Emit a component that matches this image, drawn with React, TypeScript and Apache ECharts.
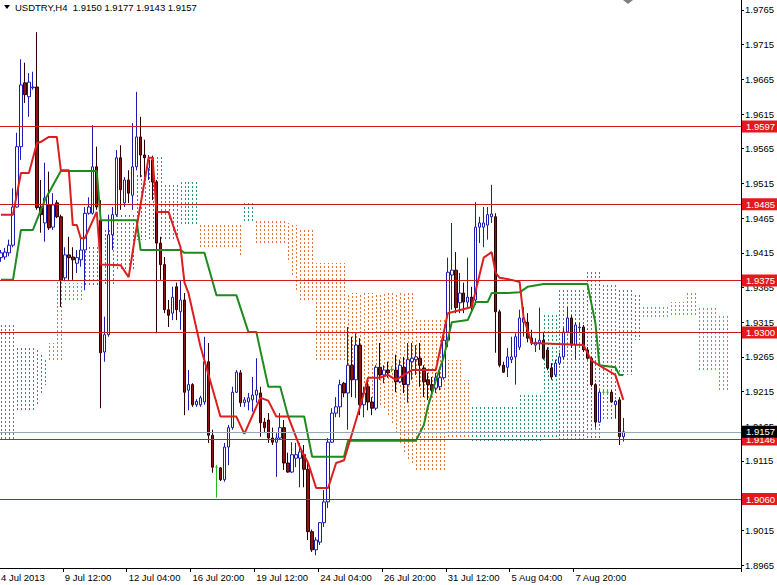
import React, { useEffect, useRef } from 'react';
import * as echarts from 'echarts';

// ---------- data ----------
const TOTAL_SLOTS = 186; // 157 H4 bars + room for the cloud shifted 26 bars ahead
const TICK_EVERY = 16;
const tickLabels = [
  '4 Jul 2013', '9 Jul 12:00', '12 Jul 04:00', '16 Jul 20:00', '19 Jul 12:00',
  '24 Jul 04:00', '26 Jul 20:00', '31 Jul 12:00', '5 Aug 04:00', '7 Aug 20:00',
];
const titleText = 'USDTRY,H4  1.9150 1.9177 1.9143 1.9157';

// [open, high, low, close]
const candles: number[][] = [
  [1.9408, 1.9419, 1.9402, 1.9415], [1.9409, 1.9422, 1.9405, 1.9416], [1.9415, 1.9434, 1.9410, 1.9426],
  [1.9426, 1.9508, 1.9423, 1.9481], [1.9481, 1.9588, 1.9480, 1.9568], [1.9568, 1.9694, 1.9549, 1.9657],
  [1.9660, 1.9689, 1.9631, 1.9643], [1.9640, 1.9674, 1.9611, 1.9661], [1.9653, 1.9676, 1.9650, 1.9654],
  [1.9654, 1.9733, 1.9477, 1.9480], [1.9481, 1.9520, 1.9444, 1.9470], [1.9458, 1.9545, 1.9431, 1.9494],
  [1.9484, 1.9532, 1.9448, 1.9451], [1.9452, 1.9501, 1.9448, 1.9484], [1.9487, 1.9491, 1.9465, 1.9467],
  [1.9467, 1.9470, 1.9337, 1.9376], [1.9379, 1.9423, 1.9374, 1.9412], [1.9412, 1.9438, 1.9376, 1.9408],
  [1.9409, 1.9423, 1.9376, 1.9405], [1.9400, 1.9419, 1.9386, 1.9408], [1.9405, 1.9436, 1.9395, 1.9419],
  [1.9419, 1.9481, 1.9361, 1.9472], [1.9472, 1.9495, 1.9470, 1.9481], [1.9472, 1.9599, 1.9470, 1.9539],
  [1.9539, 1.9568, 1.9477, 1.9481], [1.9462, 1.9491, 1.9191, 1.9271], [1.9272, 1.9323, 1.9258, 1.9297],
  [1.9297, 1.9470, 1.9294, 1.9441], [1.9441, 1.9481, 1.9419, 1.9470], [1.9470, 1.9563, 1.9467, 1.9552],
  [1.9552, 1.9570, 1.9477, 1.9506], [1.9487, 1.9524, 1.9481, 1.9520], [1.9520, 1.9534, 1.9487, 1.9501],
  [1.9498, 1.9602, 1.9477, 1.9539], [1.9539, 1.9647, 1.9534, 1.9582], [1.9582, 1.9611, 1.9524, 1.9556],
  [1.9556, 1.9578, 1.9524, 1.9552], [1.9537, 1.9556, 1.9520, 1.9549], [1.9549, 1.9555, 1.9491, 1.9517],
  [1.9517, 1.9520, 1.9299, 1.9429], [1.9429, 1.9438, 1.9376, 1.9398], [1.9398, 1.9409, 1.9328, 1.9333],
  [1.9333, 1.9347, 1.9308, 1.9325], [1.9328, 1.9366, 1.9318, 1.9351], [1.9366, 1.9372, 1.9318, 1.9333],
  [1.9330, 1.9376, 1.9304, 1.9347], [1.9347, 1.9357, 1.9181, 1.9214], [1.9217, 1.9246, 1.9188, 1.9225],
  [1.9225, 1.9227, 1.9193, 1.9196], [1.9196, 1.9204, 1.9193, 1.9201], [1.9196, 1.9209, 1.9193, 1.9206],
  [1.9200, 1.9294, 1.9196, 1.9258], [1.9258, 1.9285, 1.9141, 1.9152], [1.9152, 1.9160, 1.9098, 1.9106],
  [1.9106, 1.9109, 1.9062, 1.9106], [1.9105, 1.9106, 1.9086, 1.9088], [1.9088, 1.9141, 1.9085, 1.9135],
  [1.9135, 1.9167, 1.9109, 1.9163], [1.9163, 1.9222, 1.9160, 1.9214], [1.9214, 1.9246, 1.9213, 1.9243],
  [1.9242, 1.9246, 1.9193, 1.9199], [1.9199, 1.9207, 1.9193, 1.9203], [1.9200, 1.9213, 1.9188, 1.9206],
  [1.9203, 1.9236, 1.9186, 1.9210], [1.9210, 1.9263, 1.9199, 1.9217], [1.9213, 1.9222, 1.9150, 1.9170],
  [1.9171, 1.9177, 1.9155, 1.9163], [1.9174, 1.9184, 1.9141, 1.9148], [1.9148, 1.9163, 1.9138, 1.9142],
  [1.9142, 1.9155, 1.9092, 1.9148], [1.9148, 1.9184, 1.9145, 1.9163], [1.9163, 1.9174, 1.9102, 1.9112],
  [1.9112, 1.9127, 1.9098, 1.9099], [1.9099, 1.9142, 1.9098, 1.9124], [1.9119, 1.9141, 1.9106, 1.9124],
  [1.9119, 1.9141, 1.9077, 1.9128], [1.9124, 1.9138, 1.9077, 1.9103], [1.9103, 1.9116, 1.9001, 1.9013],
  [1.9013, 1.9016, 1.8984, 1.8987], [1.8987, 1.9005, 1.8979, 1.9001], [1.8998, 1.9027, 1.8994, 1.9026],
  [1.9026, 1.9073, 1.9020, 1.9056], [1.9056, 1.9148, 1.9047, 1.9142], [1.9142, 1.9191, 1.9141, 1.9184],
  [1.9184, 1.9207, 1.9178, 1.9193], [1.9193, 1.9232, 1.9178, 1.9225], [1.9227, 1.9229, 1.9207, 1.9213],
  [1.9213, 1.9308, 1.9160, 1.9253], [1.9253, 1.9294, 1.9207, 1.9232], [1.9232, 1.9299, 1.9206, 1.9282],
  [1.9282, 1.9292, 1.9181, 1.9196], [1.9196, 1.9222, 1.9178, 1.9213], [1.9222, 1.9229, 1.9188, 1.9200],
  [1.9200, 1.9207, 1.9181, 1.9191], [1.9191, 1.9253, 1.9188, 1.9250], [1.9250, 1.9285, 1.9232, 1.9239],
  [1.9239, 1.9253, 1.9227, 1.9246], [1.9246, 1.9258, 1.9235, 1.9242], [1.9247, 1.9252, 1.9243, 1.9247],
  [1.9246, 1.9268, 1.9214, 1.9229], [1.9229, 1.9261, 1.9227, 1.9253], [1.9250, 1.9265, 1.9213, 1.9225],
  [1.9225, 1.9285, 1.9199, 1.9261], [1.9258, 1.9285, 1.9232, 1.9263], [1.9261, 1.9282, 1.9239, 1.9265],
  [1.9263, 1.9285, 1.9222, 1.9253], [1.9249, 1.9253, 1.9207, 1.9229], [1.9232, 1.9242, 1.9203, 1.9225],
  [1.9225, 1.9236, 1.9207, 1.9217], [1.9220, 1.9242, 1.9213, 1.9235], [1.9222, 1.9250, 1.9217, 1.9235],
  [1.9235, 1.9294, 1.9232, 1.9289], [1.9289, 1.9408, 1.9279, 1.9387], [1.9383, 1.9458, 1.9333, 1.9390],
  [1.9390, 1.9416, 1.9328, 1.9336], [1.9343, 1.9386, 1.9328, 1.9357], [1.9357, 1.9372, 1.9328, 1.9344],
  [1.9344, 1.9408, 1.9337, 1.9351], [1.9351, 1.9366, 1.9330, 1.9337], [1.9347, 1.9488, 1.9340, 1.9452],
  [1.9452, 1.9467, 1.9429, 1.9458], [1.9452, 1.9481, 1.9423, 1.9458], [1.9455, 1.9481, 1.9434, 1.9470],
  [1.9467, 1.9513, 1.9458, 1.9471], [1.9467, 1.9472, 1.9271, 1.9330], [1.9330, 1.9333, 1.9250, 1.9253],
  [1.9253, 1.9258, 1.9242, 1.9243], [1.9250, 1.9278, 1.9236, 1.9265], [1.9261, 1.9294, 1.9256, 1.9265],
  [1.9265, 1.9299, 1.9225, 1.9294], [1.9279, 1.9333, 1.9275, 1.9321], [1.9315, 1.9337, 1.9294, 1.9321],
  [1.9315, 1.9328, 1.9286, 1.9292], [1.9292, 1.9304, 1.9282, 1.9285], [1.9282, 1.9292, 1.9272, 1.9286],
  [1.9285, 1.9336, 1.9275, 1.9289], [1.9289, 1.9301, 1.9261, 1.9263], [1.9275, 1.9279, 1.9246, 1.9249],
  [1.9249, 1.9256, 1.9232, 1.9236], [1.9239, 1.9261, 1.9236, 1.9256], [1.9256, 1.9271, 1.9253, 1.9265],
  [1.9265, 1.9307, 1.9261, 1.9301], [1.9301, 1.9337, 1.9299, 1.9321], [1.9321, 1.9325, 1.9278, 1.9282],
  [1.9282, 1.9315, 1.9261, 1.9311], [1.9307, 1.9314, 1.9301, 1.9308], [1.9308, 1.9311, 1.9272, 1.9275],
  [1.9275, 1.9279, 1.9261, 1.9263], [1.9263, 1.9265, 1.9222, 1.9225], [1.9225, 1.9227, 1.9163, 1.9171],
  [1.9171, 1.9217, 1.9170, 1.9214], [1.9214, 1.9217, 1.9210, 1.9214], [1.9214, 1.9217, 1.9210, 1.9214],
  [1.9214, 1.9217, 1.9199, 1.9200], [1.9196, 1.9203, 1.9177, 1.9201], [1.9203, 1.9207, 1.9138, 1.9150],
  [1.9150, 1.9177, 1.9143, 1.9157],
];

// Tenkan-sen (red) vertices: bar index / value
const tenkanBars = [0, 3, 5, 7, 9, 10, 12, 14, 15, 17, 18, 19, 20, 21, 24, 25, 30, 32, 34, 37, 38, 39, 42, 45, 46, 47, 50, 55, 59, 61, 65, 67, 69, 72, 75, 77, 79, 82, 84, 86, 90, 92, 95, 97, 99, 103, 109, 112, 118, 121, 123, 124, 125, 128, 130, 131, 133, 146, 148, 151, 154, 156];
const tenkanValues = [1.9470, 1.9470, 1.9530, 1.9530, 1.9573, 1.9575, 1.9582, 1.9582, 1.9534, 1.9534, 1.9455, 1.9455, 1.9436, 1.9436, 1.9474, 1.9398, 1.9397, 1.9380, 1.9452, 1.9552, 1.9552, 1.9474, 1.9474, 1.9423, 1.9372, 1.9357, 1.9280, 1.9179, 1.9179, 1.9154, 1.9206, 1.9202, 1.9179, 1.9179, 1.9134, 1.9112, 1.9076, 1.9076, 1.9112, 1.9116, 1.9193, 1.9235, 1.9235, 1.9239, 1.9232, 1.9246, 1.9246, 1.9328, 1.9337, 1.9408, 1.9416, 1.9386, 1.9379, 1.9376, 1.9373, 1.9322, 1.9285, 1.9282, 1.9260, 1.9249, 1.9239, 1.9203];

// Kijun-sen (green) vertices
const kijunBars = [0, 3, 5, 8, 11, 15, 24, 25, 34, 35, 45, 46, 51, 54, 59, 62, 64, 67, 70, 72, 76, 78, 86, 87, 104, 106, 107, 109, 111, 113, 117, 119, 122, 123, 127, 130, 132, 136, 147, 149, 150, 154, 155, 156];
const kijunValues = [1.9376, 1.9376, 1.9448, 1.9448, 1.9491, 1.9533, 1.9533, 1.9462, 1.9462, 1.9419, 1.9419, 1.9415, 1.9415, 1.9354, 1.9354, 1.9301, 1.9301, 1.9222, 1.9222, 1.9179, 1.9179, 1.9121, 1.9121, 1.9144, 1.9144, 1.9167, 1.9193, 1.9231, 1.9265, 1.9315, 1.9318, 1.9344, 1.9344, 1.9357, 1.9357, 1.9358, 1.9366, 1.9370, 1.9370, 1.9314, 1.9253, 1.9250, 1.9239, 1.9239];

// Kumo: runs of bars [fromBar, toBar, senkouA, senkouB]
const senkouRuns: number[][] = [
  [0, 3, 1.9311, 1.9145], [4, 8, 1.9278, 1.9188], [9, 9, 1.9275, 1.9196], [10, 10, 1.9268, 1.9210],
  [11, 11, 1.9261, 1.9225], [12, 13, 1.9261, 1.9285], [14, 15, 1.9261, 1.9376], [16, 20, 1.9347, 1.9372],
  [21, 24, 1.9423, 1.9366], [25, 28, 1.9448, 1.9369], [29, 33, 1.9470, 1.9390], [34, 36, 1.9527, 1.9434],
  [37, 40, 1.9553, 1.9434], [41, 44, 1.9513, 1.9434], [45, 49, 1.9517, 1.9455], [50, 59, 1.9423, 1.9458],
  [60, 60, 1.9412, 1.9458], [61, 63, 1.9487, 1.9460], [64, 71, 1.9429, 1.9462], [72, 72, 1.9405, 1.9458],
  [73, 73, 1.9383, 1.9458], [74, 74, 1.9361, 1.9455], [75, 78, 1.9347, 1.9448], [79, 86, 1.9261, 1.9400],
  [87, 87, 1.9253, 1.9357], [88, 88, 1.9246, 1.9357], [89, 89, 1.9241, 1.9357], [90, 90, 1.9236, 1.9357],
  [91, 91, 1.9228, 1.9357], [92, 92, 1.9217, 1.9357], [93, 93, 1.9206, 1.9357], [94, 94, 1.9201, 1.9357],
  [95, 95, 1.9196, 1.9357], [96, 96, 1.9192, 1.9357], [97, 97, 1.9181, 1.9357], [98, 98, 1.9170, 1.9357],
  [99, 99, 1.9155, 1.9357], [100, 100, 1.9141, 1.9357], [101, 101, 1.9128, 1.9357], [102, 102, 1.9118, 1.9357],
  [103, 103, 1.9112, 1.9357], [104, 111, 1.9102, 1.9318], [112, 115, 1.9150, 1.9261], [116, 117, 1.9150, 1.9232],
  [118, 129, 1.9193, 1.9141], [130, 135, 1.9210, 1.9142], [136, 139, 1.9325, 1.9145], [140, 146, 1.9361, 1.9145],
  [147, 150, 1.9387, 1.9145], [151, 154, 1.9369, 1.9174], [155, 158, 1.9361, 1.9239], [159, 160, 1.9354, 1.9289],
  [161, 167, 1.9322, 1.9337], [168, 171, 1.9325, 1.9344], [172, 174, 1.9325, 1.9357], [175, 179, 1.9246, 1.9337],
  [180, 182, 1.9217, 1.9325],
];

const levelLines = [1.9597, 1.9485, 1.9375, 1.9300, 1.9146, 1.9060];
const lastPrice = 1.9157;
const yLabelValues = [
  1.8965, 1.9015, 1.9065, 1.9115, 1.9165, 1.9215, 1.9265, 1.9315, 1.9365,
  1.9415, 1.9465, 1.9515, 1.9565, 1.9615, 1.9665, 1.9715, 1.9765,
];
const Y_MIN = 1.89607;
const Y_MAX = 1.97794;

// ---------- styles ----------
const FONT = '"Liberation Sans", Arial, sans-serif';
const UP_BORDER = '#1c1cb4';
const DOWN_FILL = '#8e1212';
const DOWN_BORDER = '#2a0000';
const DOJI = '#1fc01f';
const CLOUD_UP = '#2f9274';
const CLOUD_DOWN = '#dd7540';
const LEVEL_RED = '#c81e1e';
const LABEL_RED = '#e5191c';

export default function App() {
  const ref = useRef<HTMLDivElement>(null);

  useEffect(() => {
    document.body.style.margin = '0';
    const chart = echarts.init(ref.current as HTMLDivElement, null, { renderer: 'svg' });

    const slots = Array.from({ length: TOTAL_SLOTS }, (_, i) => String(i));
    const showTick = (idx: number) => idx % TICK_EVERY === 0 && idx / TICK_EVERY < tickLabels.length;

    const candleData = candles.map(([o, h, l, c]) =>
      o === c
        ? { value: [o, c, l, h], itemStyle: { color: DOJI, color0: DOJI, borderColor: DOJI, borderColor0: DOJI } }
        : [o, c, l, h]
    );

    const cloudData: number[][] = [];
    senkouRuns.forEach(([from, to, a, b]) => {
      for (let i = from; i <= to; i++) cloudData.push([i, a, b]);
    });

    const levelLabel = {
      show: true,
      position: 'end',
      distance: 1,
      formatter: (p: any) => Number(p.value).toFixed(4),
      color: '#fff',
      backgroundColor: LABEL_RED,
      fontSize: 9.5,
      fontFamily: FONT,
      lineHeight: 11,
      padding: [1, 4, 0, 4],
    };

    const option: any = {
      animation: false,
      backgroundColor: '#ffffff',
      grid: { left: -1, right: 36, top: 0, bottom: 17, containLabel: false, outerBoundsMode: 'none' },
      xAxis: {
        type: 'category',
        data: slots,
        boundaryGap: true,
        axisLine: { show: true, lineStyle: { color: '#000', width: 1 } },
        axisTick: { show: true, interval: (idx: number) => showTick(idx), length: 4, lineStyle: { color: '#000' } },
        axisLabel: {
          show: true,
          interval: (idx: number) => showTick(idx),
          formatter: (_v: string, idx: number) => (showTick(idx) ? tickLabels[idx / TICK_EVERY] : ''),
          align: 'left',
          margin: 4,
          color: '#000',
          fontSize: 9.5,
          fontFamily: FONT,
        },
        splitLine: { show: false },
      },
      yAxis: {
        type: 'value',
        position: 'right',
        min: Y_MIN,
        max: Y_MAX,
        axisLine: { show: true, lineStyle: { color: '#000', width: 1 } },
        axisTick: { show: true, customValues: yLabelValues, length: 3, lineStyle: { color: '#000' } },
        axisLabel: {
          show: true,
          customValues: yLabelValues,
          formatter: (v: number) => v.toFixed(4),
          margin: 4,
          color: '#000',
          fontSize: 9.5,
          fontFamily: FONT,
        },
        splitLine: { show: false },
      },
      graphic: [
        { type: 'polygon', shape: { points: [[4, 5], [10, 5], [7, 9]] }, style: { fill: '#000' } },
        {
          type: 'text',
          x: 15,
          y: 7,
          style: { text: titleText, fill: '#000', font: `9.5px ${FONT}`, verticalAlign: 'middle' },
        },
        { type: 'polygon', shape: { points: [[623, 0], [633, 0], [628, 4]] }, style: { fill: '#808080' } },
      ],
      series: [
        {
          type: 'custom',
          name: 'kumo',
          z: 1,
          silent: true,
          clip: true,
          encode: { x: 0, y: [1, 2] },
          data: cloudData,
          renderItem: (_params: any, api: any) => {
            const i = api.value(0);
            const a = api.value(1);
            const b = api.value(2);
            const p1 = api.coord([i, a]);
            const p2 = api.coord([i, b]);
            const x = Math.round(p1[0]) + 0.5;
            return {
              type: 'line',
              shape: { x1: x, y1: Math.round(p1[1]), x2: x, y2: Math.round(p2[1]) },
              style: { stroke: a >= b ? CLOUD_UP : CLOUD_DOWN, lineWidth: 1, lineDash: [2, 2] },
            };
          },
        },
        {
          type: 'candlestick',
          name: 'USDTRY',
          z: 2,
          barWidth: 3,
          data: candleData,
          itemStyle: {
            color: '#ffffff',
            color0: DOWN_FILL,
            borderColor: UP_BORDER,
            borderColor0: DOWN_BORDER,
            borderWidth: 1,
          },
          markLine: {
            silent: true,
            symbol: ['none', 'none'],
            precision: 4,
            animation: false,
            data: [
              ...levelLines.map((v) => ({
                yAxis: v,
                lineStyle: { color: LEVEL_RED, width: 1, type: 'solid' },
                label: levelLabel,
              })),
              {
                yAxis: lastPrice,
                lineStyle: { color: '#9aa6b0', width: 1, type: 'solid' },
                label: { ...levelLabel, backgroundColor: '#000000' },
              },
            ],
          },
        },
        {
          type: 'line',
          name: 'Tenkan-sen',
          z: 4,
          symbol: 'none',
          silent: true,
          lineStyle: { color: '#dc1e1e', width: 2 },
          data: tenkanBars.map((b, k) => [b, tenkanValues[k]]),
        },
        {
          type: 'line',
          name: 'Kijun-sen',
          z: 3,
          symbol: 'none',
          silent: true,
          lineStyle: { color: '#1f8a1f', width: 2 },
          data: kijunBars.map((b, k) => [b, kijunValues[k]]),
        },
      ],
    };

    chart.setOption(option);
    return () => chart.dispose();
  }, []);

  return (
    <div
      ref={ref}
      style={{ position: 'absolute', left: 0, top: 0, width: 777, height: 585, background: '#fff' }}
    />
  );
}
